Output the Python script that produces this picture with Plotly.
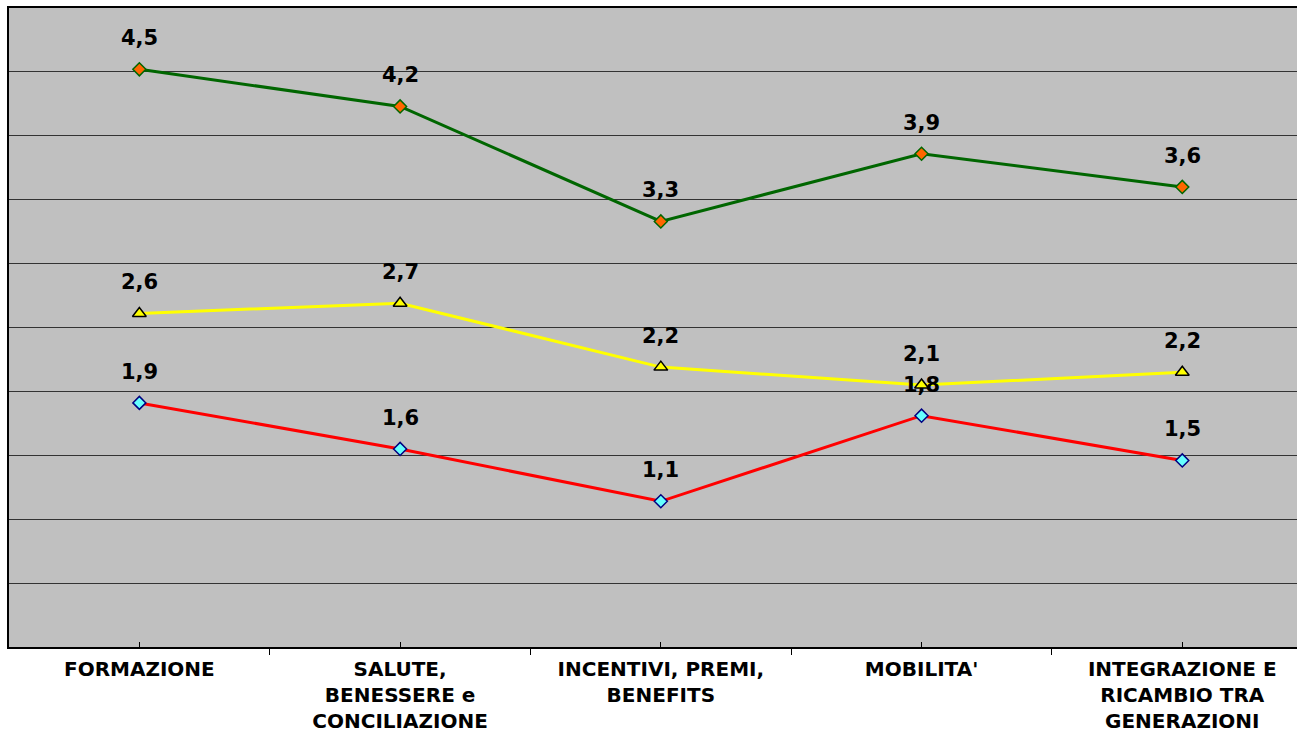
import plotly.graph_objects as go

categories = ["FORMAZIONE", "SALUTE,<br>BENESSERE e<br>CONCILIAZIONE", "INCENTIVI, PREMI,<br>BENEFITS",
              "MOBILITA'", "INTEGRAZIONE E<br>RICAMBIO TRA<br>GENERAZIONI"]
green_vals = [4.52, 4.23, 3.33, 3.86, 3.60]
green_labels = ["4,5", "4,2", "3,3", "3,9", "3,6"]
yellow_vals = [2.61, 2.69, 2.19, 2.05, 2.15]
yellow_labels = ["2,6", "2,7", "2,2", "2,1", "2,2"]
red_vals = [1.91, 1.55, 1.14, 1.81, 1.46]
red_labels = ["1,9", "1,6", "1,1", "1,8", "1,5"]

xpos = list(range(len(categories)))
FONT = "DejaVu Sans, Verdana, sans-serif"

fig = go.Figure()
fig.add_trace(go.Scatter(x=xpos, y=green_vals, mode="lines+markers",
                         line=dict(color="#006600", width=3),
                         marker=dict(symbol="diamond", size=10, color="#FF6600",
                                     line=dict(color="#006600", width=1.5))))
fig.add_trace(go.Scatter(x=xpos, y=yellow_vals, mode="lines+markers",
                         line=dict(color="#FFFF00", width=3),
                         marker=dict(symbol="triangle-up", size=12, color="#FFFF00",
                                     line=dict(color="#000000", width=1.5))))
fig.add_trace(go.Scatter(x=xpos, y=red_vals, mode="lines+markers",
                         line=dict(color="#FF0000", width=3),
                         marker=dict(symbol="diamond", size=10, color="#66FFFF",
                                     line=dict(color="#000080", width=1.5))))

for vals, labels in [(green_vals, green_labels), (yellow_vals, yellow_labels), (red_vals, red_labels)]:
    for x, v, t in zip(xpos, vals, labels):
        fig.add_annotation(x=x, y=v, text=t, showarrow=False, yshift=31,
                           font=dict(family=FONT, size=21, color="black", weight="bold"))

fig.update_layout(
    width=1297, height=734,
    margin=dict(l=9, r=0, t=8, b=87, autoexpand=False),
    paper_bgcolor="white", plot_bgcolor="#C0C0C0",
    showlegend=False,
    xaxis=dict(range=[-0.5, 4.44], tickvals=xpos, ticktext=categories,
               ticks="inside", ticklen=5, tickcolor="black", tickwidth=1,
               minor=dict(tickvals=[-0.5, 0.5, 1.5, 2.5, 3.5], ticks="outside",
                          ticklen=6, tickcolor="black", tickwidth=1, showgrid=False),
               showgrid=False, zeroline=False, showline=True, linecolor="black",
               linewidth=2, mirror=True, ticklabelstandoff=3, automargin=False,
               tickfont=dict(family=FONT, size=20, color="black", weight="bold")),
    yaxis=dict(range=[0, 5], dtick=0.5, showticklabels=False, ticks="",
               showgrid=True, gridcolor="#333333", gridwidth=1, zeroline=False,
               showline=True, linecolor="black", linewidth=2, automargin=False),
)

fig.write_html("out.html", config={"displayModeBar": False},
               post_script="document.body.style.margin='0';document.body.style.overflow='hidden';")
